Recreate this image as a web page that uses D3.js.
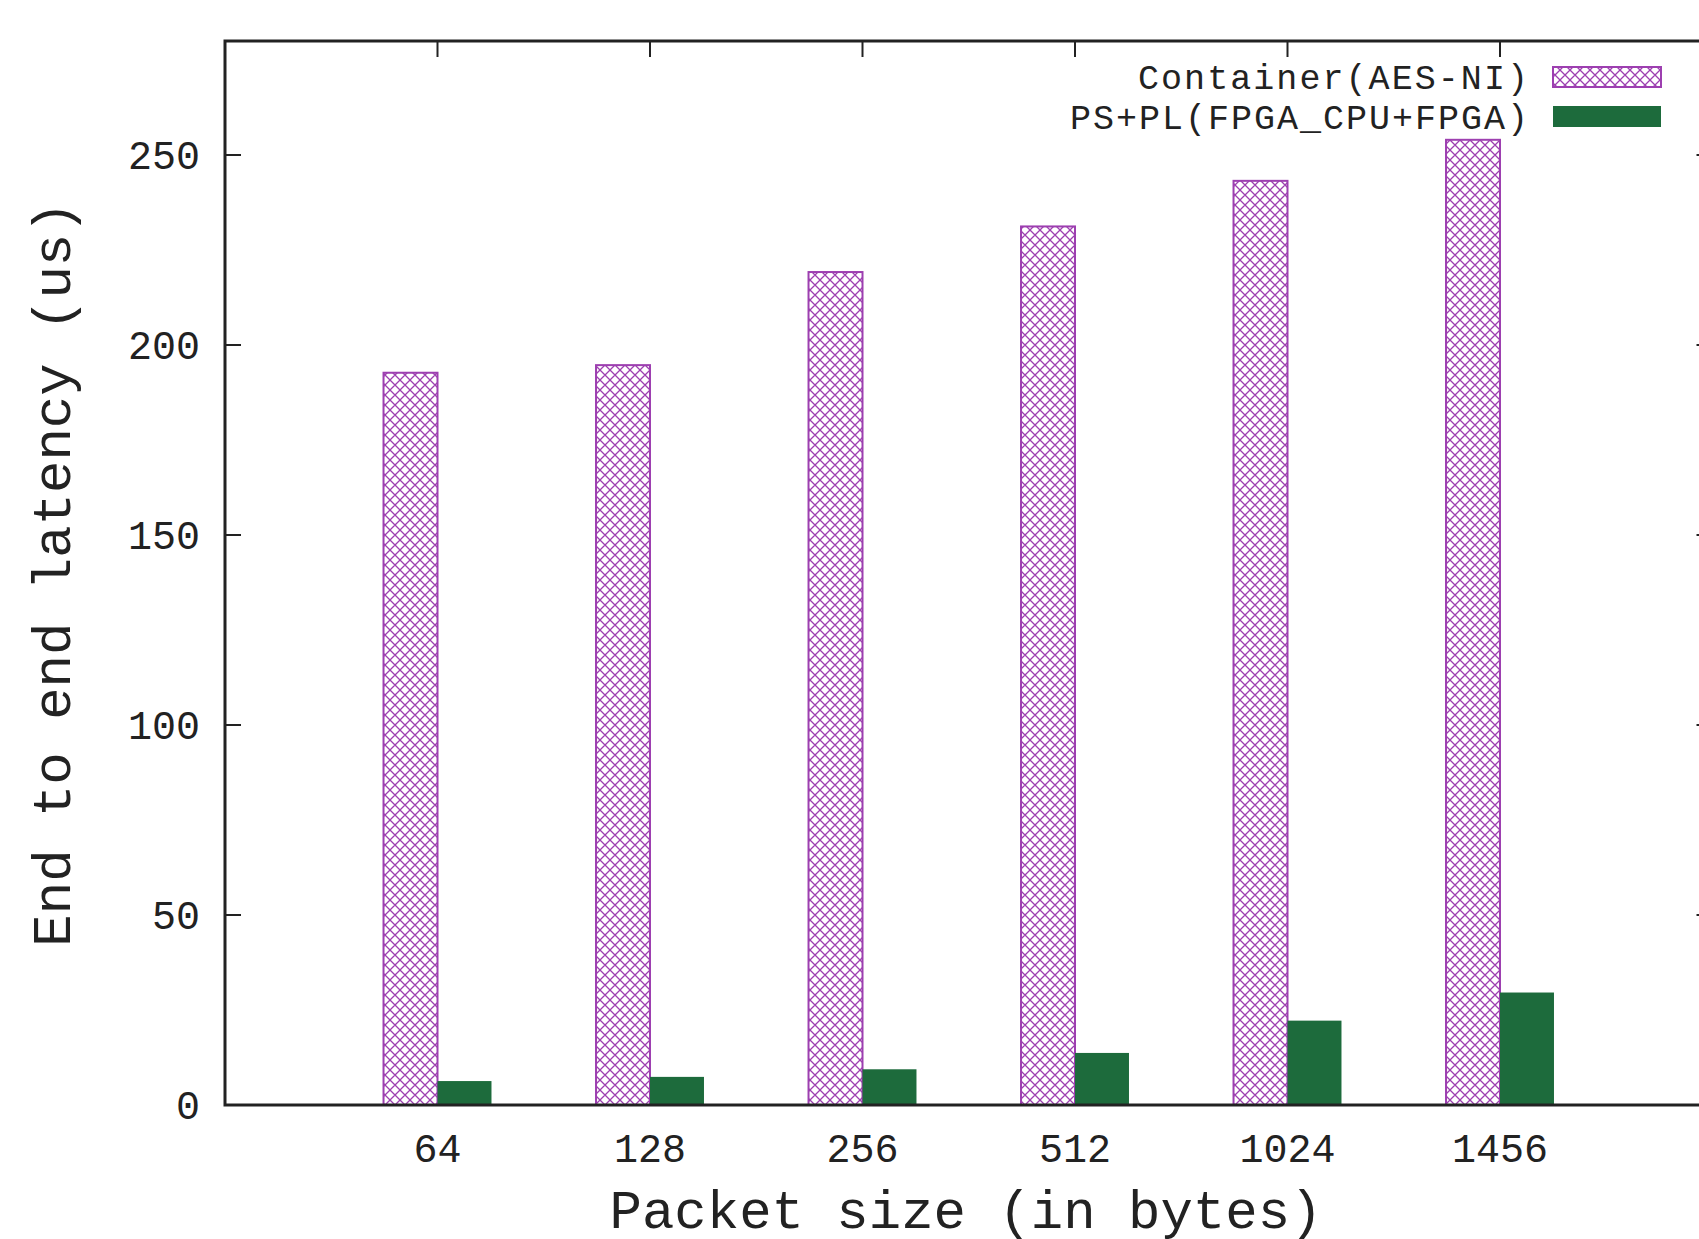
<!DOCTYPE html>
<html>
<head>
<meta charset="utf-8">
<script src="https://cdn.jsdelivr.net/npm/d3@7"></script>
<style>
  body { margin: 0; background: #fff; }
  svg { display: block; }
  text { font-family: "Liberation Mono", "Courier New", monospace; fill: #222; }
</style>
</head>
<body>
<div id="chart"></div>
<script>
// data
const packetSizes = ["64", "128", "256", "512", "1024", "1456"];
const containerAES = [192.7, 194.7, 219.2, 231.2, 243.2, 254.0];
const psPlFpga = [6.3, 7.4, 9.4, 13.7, 22.2, 29.6];
const yTicks = [0, 50, 100, 150, 200, 250];
const seriesNames = ["Container(AES-NI)", "PS+PL(FPGA_CPU+FPGA)"];

const WIDTH = 1699;
const HEIGHT = 1239;
const purple = "#9d3fb0";
const green = "#1d6b3c";

const svg = d3
  .select("#chart")
  .append("svg")
  .attr("width", WIDTH)
  .attr("height", HEIGHT);

// crosshatch pattern for the container bars
const pattern = svg
  .append("defs")
  .append("pattern")
  .attr("id", "hatch")
  .attr("patternUnits", "userSpaceOnUse")
  .attr("width", 10)
  .attr("height", 10);
pattern.append("rect").attr("width", 10).attr("height", 10).attr("fill", "#fff");
pattern
  .append("path")
  .attr("d", "M0,0L10,10M10,0L0,10M-5,5L5,15M5,-5L15,5M-5,5L5,-5M5,15L15,5")
  .attr("stroke", purple)
  .attr("stroke-width", 1.3);

// index scale, gnuplot style: one unit per category, frame from -1 to 6
const x = d3.scaleLinear().domain([-1, 6]).range([225, 1712.5]);
const y = d3.scaleLinear().domain([0, 280]).range([1105, 41]);
const barW = 0.254;

// bars
svg
  .selectAll(".bar-aes")
  .data(containerAES)
  .enter()
  .append("rect")
  .attr("class", "bar-aes")
  .attr("x", (d, i) => x(i - barW))
  .attr("y", (d) => y(d))
  .attr("width", x(barW) - x(0))
  .attr("height", (d) => y(0) - y(d))
  .attr("fill", "url(#hatch)")
  .attr("stroke", purple)
  .attr("stroke-width", 2);

svg
  .selectAll(".bar-fpga")
  .data(psPlFpga)
  .enter()
  .append("rect")
  .attr("class", "bar-fpga")
  .attr("x", (d, i) => x(i))
  .attr("y", (d) => y(d))
  .attr("width", x(barW) - x(0))
  .attr("height", (d) => y(0) - y(d))
  .attr("fill", green);

// frame
svg
  .append("rect")
  .attr("x", x(-1))
  .attr("y", y(280))
  .attr("width", x(6) - x(-1))
  .attr("height", y(0) - y(280))
  .attr("fill", "none")
  .attr("stroke", "#222")
  .attr("stroke-width", 3);

// y axis ticks, both sides, pointing inward
const tickLen = 16;
yTicks.forEach((t) => {
  if (t > 0) {
    svg.append("line")
      .attr("x1", x(-1)).attr("x2", x(-1) + tickLen)
      .attr("y1", y(t)).attr("y2", y(t))
      .attr("stroke", "#222").attr("stroke-width", 2);
    svg.append("line")
      .attr("x1", x(6) - tickLen).attr("x2", x(6))
      .attr("y1", y(t)).attr("y2", y(t))
      .attr("stroke", "#222").attr("stroke-width", 2);
  }
  svg.append("text")
    .attr("x", 200)
    .attr("y", y(t))
    .attr("dy", "0.35em")
    .attr("text-anchor", "end")
    .attr("font-size", 40)
    .text(t);
});

// x ticks on the top border, labels under the bottom
packetSizes.forEach((p, i) => {
  svg.append("line")
    .attr("x1", x(i)).attr("x2", x(i))
    .attr("y1", y(280)).attr("y2", y(280) + tickLen)
    .attr("stroke", "#222").attr("stroke-width", 2);
  svg.append("text")
    .attr("x", x(i))
    .attr("y", 1148)
    .attr("dy", "0.35em")
    .attr("text-anchor", "middle")
    .attr("font-size", 40)
    .text(p);
});

// axis titles
svg.append("text")
  .attr("x", 966)
  .attr("y", 1228)
  .attr("text-anchor", "middle")
  .attr("font-size", 54)
  .text("Packet size (in bytes)");

svg.append("text")
  .attr("transform", "translate(70, 574) rotate(-90)")
  .attr("text-anchor", "middle")
  .attr("font-size", 54)
  .text("End to end latency (us)");

// legend
const legendY = [77, 117];
const legendW = [390, 458];
seriesNames.forEach((name, i) => {
  svg.append("text")
    .attr("x", 1528).attr("y", legendY[i]).attr("dy", "0.35em")
    .attr("text-anchor", "end").attr("font-size", 35)
    .attr("textLength", legendW[i]).attr("lengthAdjust", "spacing")
    .text(name);
});
svg.append("rect")
  .attr("x", 1553).attr("y", legendY[0] - 10)
  .attr("width", 108).attr("height", 20)
  .attr("fill", "url(#hatch)").attr("stroke", purple).attr("stroke-width", 2);
svg.append("rect")
  .attr("x", 1553).attr("y", legendY[1] - 11)
  .attr("width", 108).attr("height", 21)
  .attr("fill", green);
</script>
</body>
</html>
